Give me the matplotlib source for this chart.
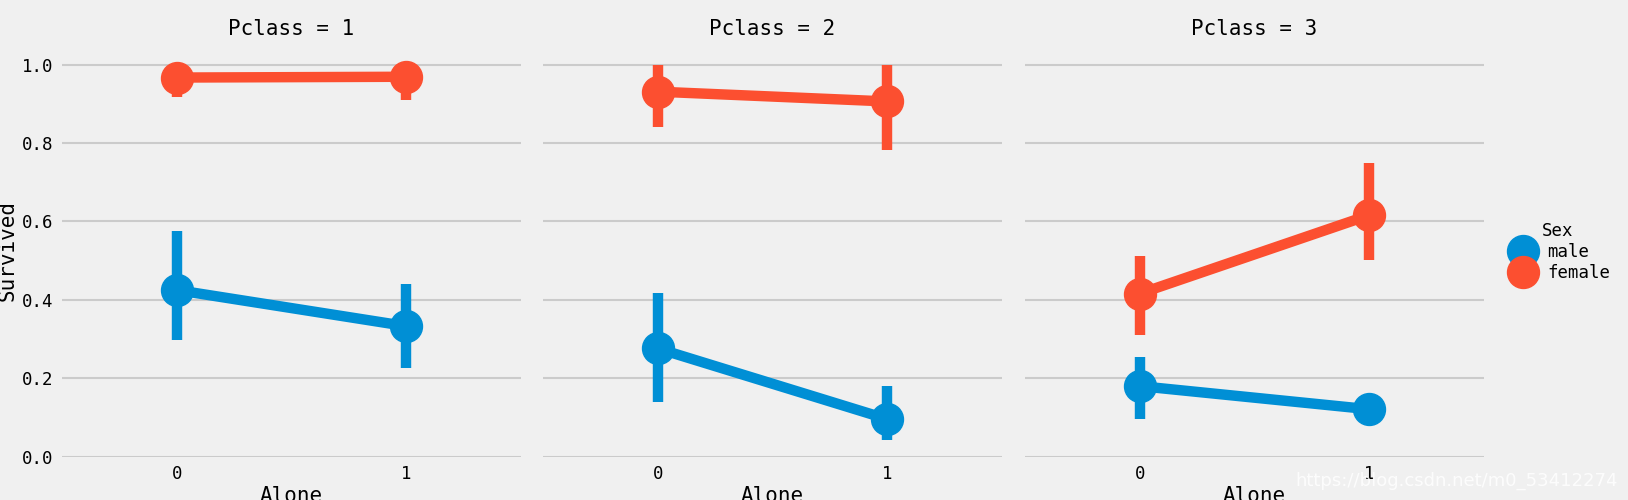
import matplotlib.pyplot as plt
from matplotlib.lines import Line2D

plt.style.use('fivethirtyeight')
plt.rcParams['font.family'] = ['DejaVu Sans Mono', 'DejaVu Sans']

# data
pclasses = [1, 2, 3]
alone = [0, 1]
sexes = ['male', 'female']

male_mean = [[0.425, 0.333], [0.276, 0.096], [0.180, 0.121]]
male_lo = [[0.297, 0.226], [0.139, 0.042], [0.097, 0.095]]
male_hi = [[0.575, 0.440], [0.417, 0.180], [0.254, 0.145]]

female_mean = [[0.967, 0.969], [0.931, 0.906], [0.416, 0.616]]
female_lo = [[0.917, 0.911], [0.840, 0.782], [0.310, 0.501]]
female_hi = [[1.000, 1.000], [1.000, 1.000], [0.511, 0.750]]

colors = ['#008fd5', '#fc4f30']

W, H = 1628, 500
fig = plt.figure(figsize=(W / 100, H / 100), dpi=100)
fig.patch.set_facecolor('#f0f0f0')

lefts = [62, 543, 1025]
ax_w = 459
bottom_px = 456.7
top_px = 45

for i, pc in enumerate(pclasses):
    ax = fig.add_axes([lefts[i] / W, 1 - bottom_px / H, ax_w / W, (bottom_px - top_px) / H])
    series = [(male_mean[i], male_lo[i], male_hi[i]),
              (female_mean[i], female_lo[i], female_hi[i])]
    for (m, lo, hi), c in zip(series, colors):
        ax.vlines(alone, lo, hi, color=c, linewidth=7.5, zorder=2)
        ax.plot(alone, m, color=c, linewidth=7.5, marker='o', markersize=23,
                zorder=3)
    ax.set_xlim(-0.5, 1.5)
    ax.set_ylim(0, 1.05)
    ax.set_yticks([0.0, 0.2, 0.4, 0.6, 0.8, 1.0])
    ax.set_xticks(alone)
    ax.set_xticklabels([str(a) for a in alone])
    ax.grid(axis='x', visible=False)
    ax.grid(axis='y', color='#cbcbcb', linewidth=1.5)
    ax.set_facecolor('#f0f0f0')
    for s in ax.spines.values():
        s.set_visible(False)
    ax.tick_params(axis='both', labelsize=12.5, length=0, pad=6)
    ax.set_title('Pclass = %d' % pc, fontsize=15, pad=7)
    ax.set_xlabel('Alone', fontsize=15, labelpad=2)
    if i == 0:
        ax.set_ylabel('Survived', fontsize=15, labelpad=3)
    else:
        ax.set_yticklabels([])

handles = [Line2D([], [], color=c, marker='o', linestyle='', markersize=23) for c in colors]
fig.legend(handles, sexes, title='Sex', loc='center left',
           bbox_to_anchor=(1497 / W, 1 - 252 / H), frameon=False,
           fontsize=12.5, title_fontsize=12.5, handletextpad=0.4,
           labelspacing=0.15, borderpad=0)

fig.text(1618 / W, 1 - 481 / H, 'https://blog.csdn.net/m0_53412274', ha='right',
         va='center', fontsize=13, color='white', alpha=0.85,
         family=['Liberation Sans Narrow', 'DejaVu Sans'])

plt.savefig('out.png', dpi=100, facecolor=fig.get_facecolor())
